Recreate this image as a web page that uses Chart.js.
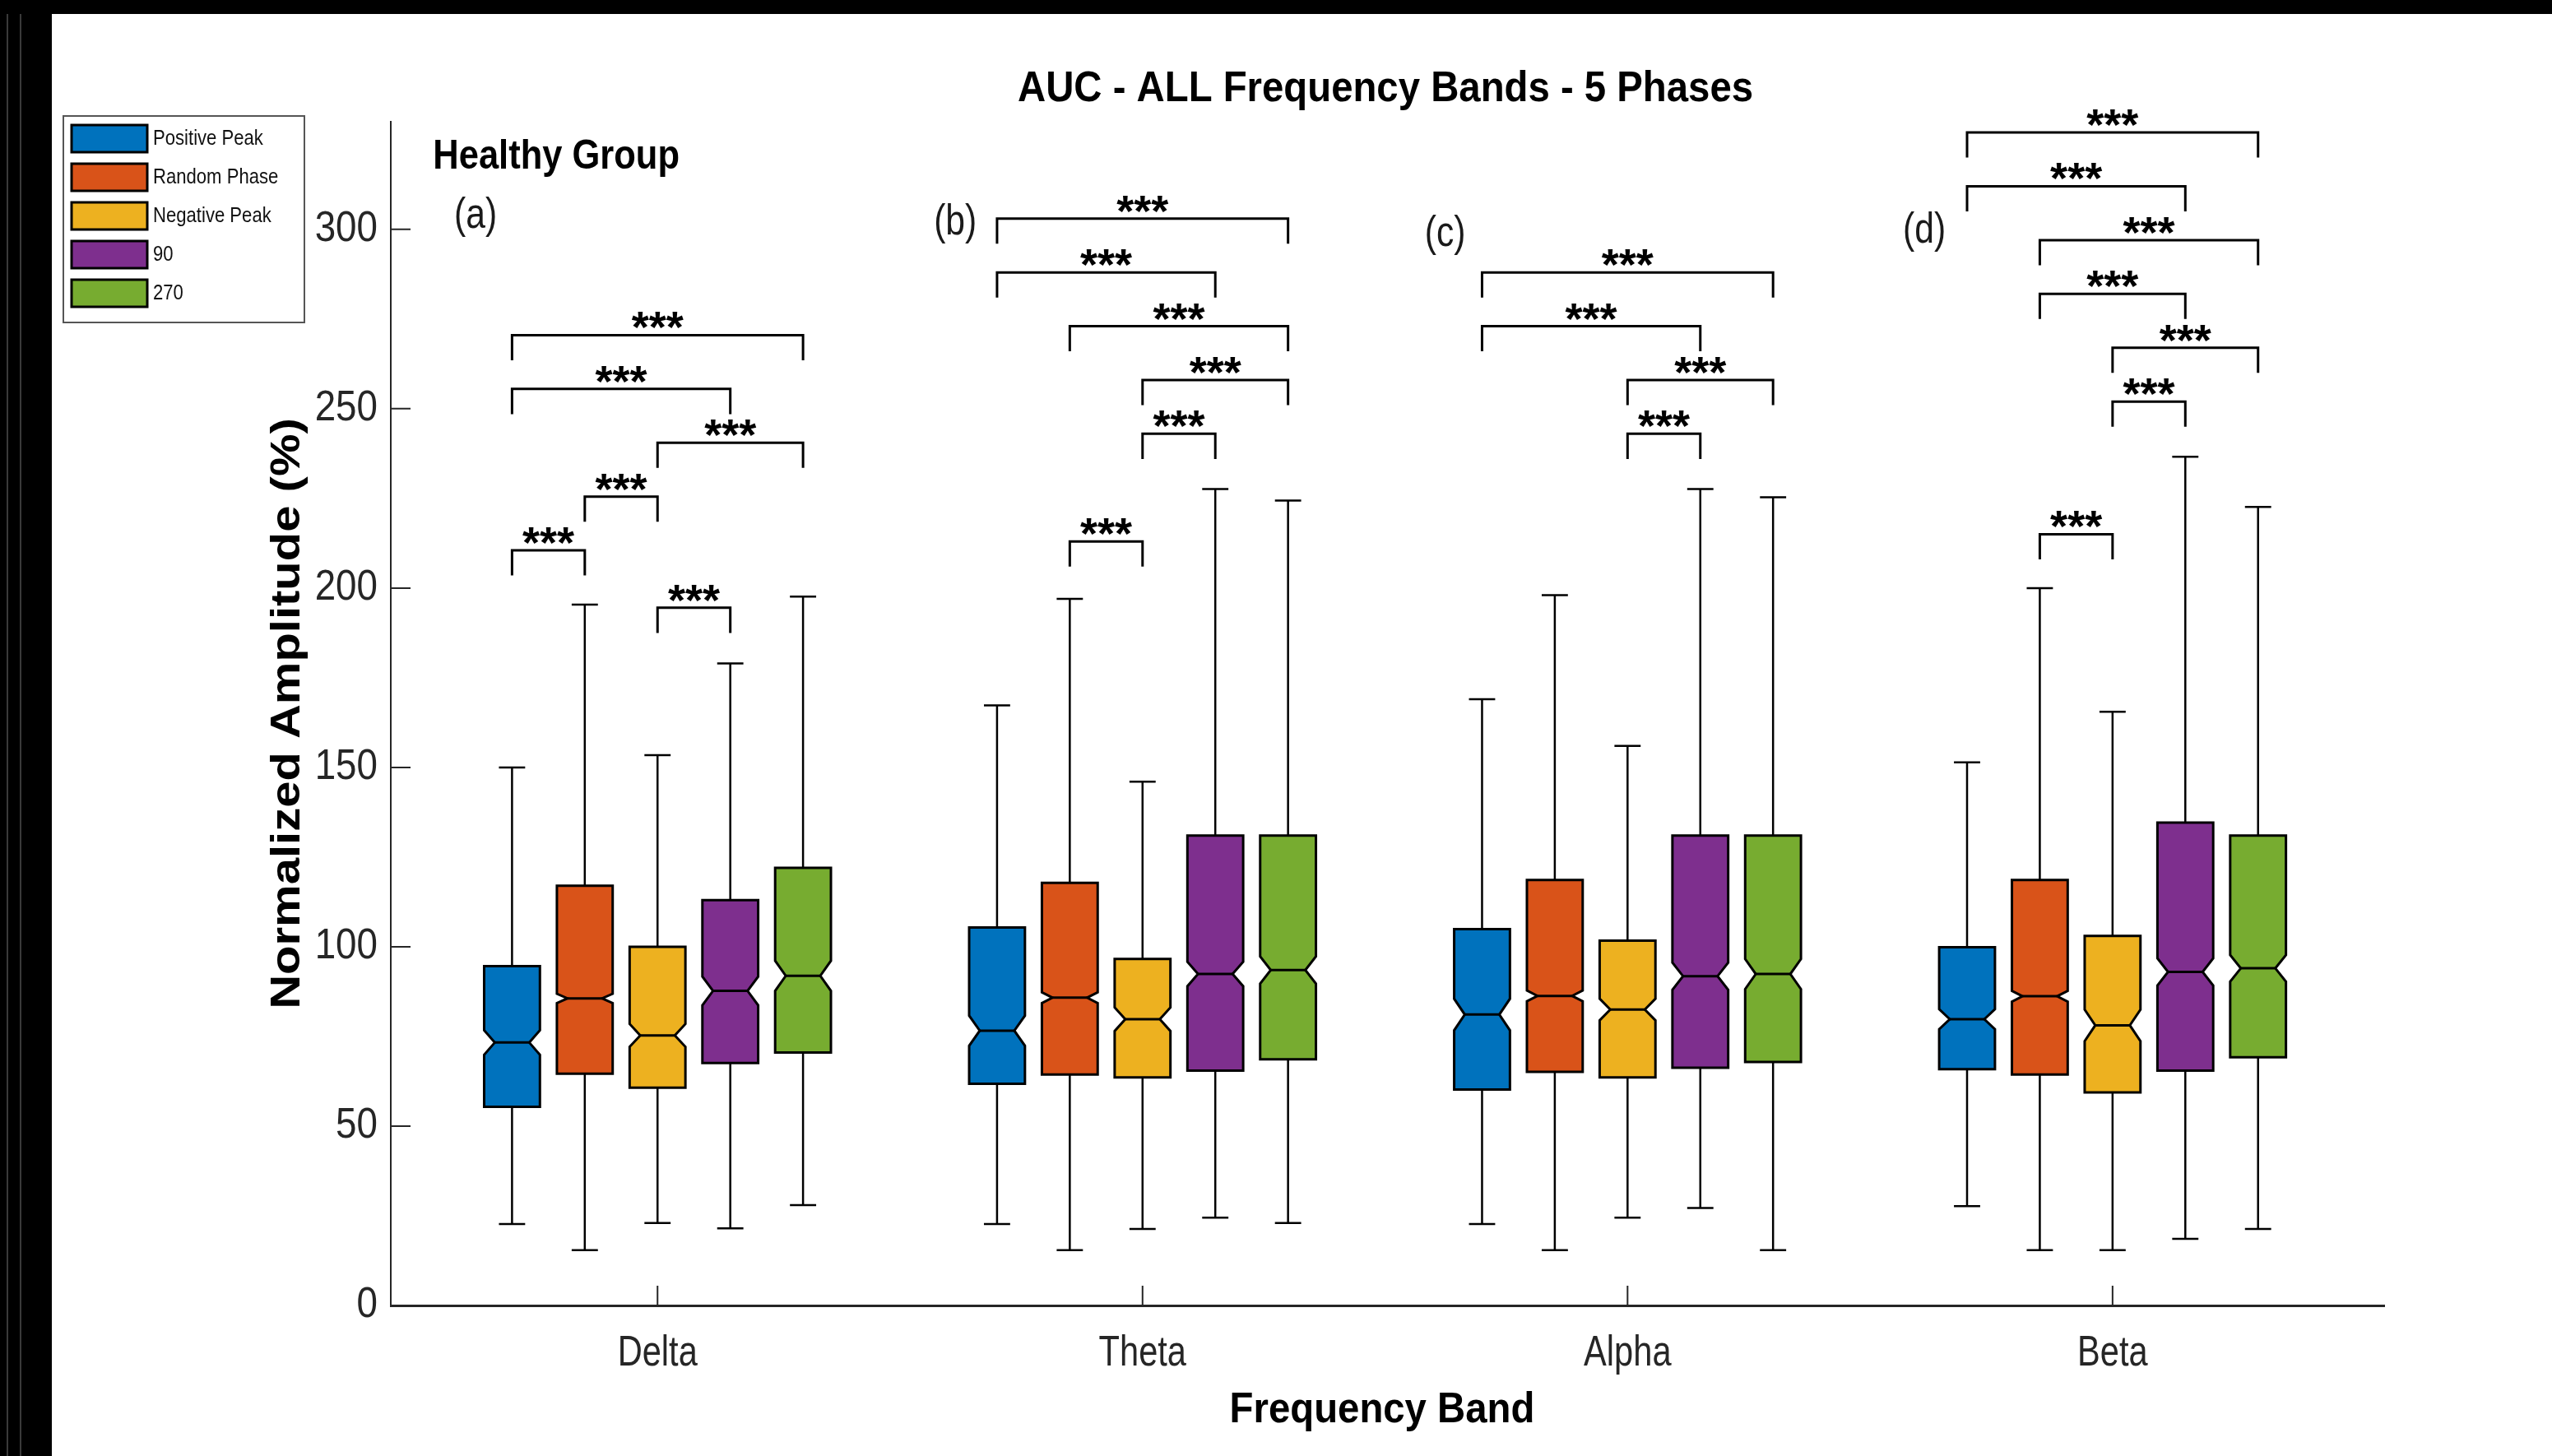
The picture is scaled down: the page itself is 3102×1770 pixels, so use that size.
<!DOCTYPE html>
<html lang="en">
<head>
<meta charset="UTF-8">
<title>AUC - ALL Frequency Bands - 5 Phases</title>
<script src="https://cdn.jsdelivr.net/npm/chart.js"></script>
<style>
  html, body { margin: 0; padding: 0; background: #fff; overflow: hidden; }
  canvas { display: block; }
</style>
</head>
<body>
<canvas id="graficoAUC" width="3102" height="1770"></canvas>
<script>
// bandas no eixo x, uma caixa por fase dentro de cada banda
const bandas = ['Delta', 'Theta', 'Alpha', 'Beta'];
const fases = ['Positive Peak', 'Random Phase', 'Negative Peak', '90', '270'];
const coresFases = ['#0072BD', '#D95319', '#EDB120', '#7E2F8E', '#77AC30'];
const ticksY = [0, 50, 100, 150, 200, 250, 300];

// estatisticas, [fase][banda]
const maximo = [
  [150, 167.3, 169, 151.4],
  [195.4, 197, 198, 200],
  [153.4, 146, 156, 165.5],
  [179, 227.6, 227.6, 236.6],
  [197.6, 224.4, 225.3, 222.6]
];
const q3 = [
  [94.6, 105.4, 104.9, 99.9],
  [117, 117.8, 118.6, 118.6],
  [100, 96.6, 101.7, 103],
  [113, 131, 131, 134.6],
  [122, 131, 131, 131]
];
const mediana = [
  [73.3, 76.6, 81.1, 79.8],
  [85.6, 85.8, 86.3, 86.2],
  [75.3, 79.8, 82.5, 78.1],
  [87.7, 92.4, 91.8, 93],
  [91.9, 93.5, 92.4, 94]
];
const q1 = [
  [55.4, 61.8, 60.2, 65.9],
  [64.6, 64.4, 65.1, 64.4],
  [60.7, 63.6, 63.6, 59.4],
  [67.6, 65.5, 66.3, 65.5],
  [70.5, 68.6, 67.9, 69.2]
];
const minimo = [
  [22.7, 22.7, 22.7, 27.7],
  [15.4, 15.4, 15.4, 15.4],
  [23, 21.3, 24.5, 15.4],
  [21.5, 24.5, 27.2, 18.6],
  [28, 23, 15.4, 21.3]
];
// meia altura do entalhe (intervalo da mediana)
const entalhe = [
  [3.4, 4.2, 4.4, 2.8],
  [1.3, 1.5, 1.5, 1.5],
  [3.2, 3.3, 3.0, 4.4],
  [4.0, 3.4, 3.8, 3.8],
  [4.2, 3.8, 4.2, 3.7]
];

// comparacoes significativas por banda: [fase A, fase B, nivel do colchete]
const comparacoes = [
  [[0, 4, 270.5], [0, 3, 255.5], [2, 4, 240.5], [1, 2, 225.5], [0, 1, 210.5], [2, 3, 194.5]],
  [[0, 4, 303], [0, 3, 288], [1, 4, 273], [2, 4, 258], [2, 3, 243], [1, 2, 213]],
  [[0, 4, 288], [0, 3, 273], [2, 4, 258], [2, 3, 243]],
  [[0, 4, 327], [0, 3, 312], [1, 4, 297], [1, 3, 282], [2, 4, 267], [2, 3, 252], [1, 2, 215]]
];
const rotulosPainel = ['(a)', '(b)', '(c)', '(d)'];

const deslocamento = [-0.3, -0.15, 0, 0.15, 0.3];
const larguraCaixa = 0.115;
const fonte = '"Liberation Sans", Arial, sans-serif';

// texto comprimido na horizontal (a figura original e mais estreita)
function texto(ctx, t, x, y, fator) {
  ctx.save();
  ctx.translate(x, y);
  ctx.scale(fator, 1);
  ctx.fillText(t, 0, 0);
  ctx.restore();
}

const desenho = {
  id: 'desenho',
  beforeDraw(chart) {
    const ctx = chart.ctx;
    ctx.save();
    ctx.fillStyle = '#fff';
    ctx.fillRect(0, 0, chart.width, chart.height);
    // moldura preta da imagem original
    ctx.fillStyle = '#000';
    ctx.fillRect(0, 0, chart.width, 17);
    ctx.fillRect(0, 0, 63, chart.height);
    ctx.fillStyle = '#3a3a3a';
    ctx.fillRect(8, 17, 2, chart.height);
    ctx.fillRect(24, 17, 2, chart.height);
    ctx.restore();
  },
  afterDatasetsDraw(chart) {
    const ctx = chart.ctx;
    const x = chart.scales.x, y = chart.scales.y;
    const meio = (x.getPixelForValue(larguraCaixa) - x.getPixelForValue(0)) / 2;
    const recuo = meio * 0.38;
    const capa = meio * 0.47;

    ctx.save();
    fases.forEach((f, i) => {
      const meta = chart.getDatasetMeta(i);
      bandas.forEach((b, j) => {
        const xc = meta.data[j].x;
        const yMax = y.getPixelForValue(maximo[i][j]);
        const yMin = y.getPixelForValue(minimo[i][j]);
        const yQ3 = y.getPixelForValue(q3[i][j]);
        const yQ1 = y.getPixelForValue(q1[i][j]);
        const yMed = y.getPixelForValue(mediana[i][j]);
        const yNs = y.getPixelForValue(mediana[i][j] + entalhe[i][j]);
        const yNi = y.getPixelForValue(mediana[i][j] - entalhe[i][j]);

        // bigodes
        ctx.strokeStyle = '#000';
        ctx.lineWidth = 2.5;
        ctx.beginPath();
        ctx.moveTo(xc, yQ3); ctx.lineTo(xc, yMax);
        ctx.moveTo(xc - capa, yMax); ctx.lineTo(xc + capa, yMax);
        ctx.moveTo(xc, yQ1); ctx.lineTo(xc, yMin);
        ctx.moveTo(xc - capa, yMin); ctx.lineTo(xc + capa, yMin);
        ctx.stroke();

        // caixa com entalhe
        const xl = xc - meio, xr = xc + meio;
        ctx.beginPath();
        ctx.moveTo(xl, yQ3);
        ctx.lineTo(xr, yQ3);
        ctx.lineTo(xr, yNs);
        ctx.lineTo(xr - recuo, yMed);
        ctx.lineTo(xr, yNi);
        ctx.lineTo(xr, yQ1);
        ctx.lineTo(xl, yQ1);
        ctx.lineTo(xl, yNi);
        ctx.lineTo(xl + recuo, yMed);
        ctx.lineTo(xl, yNs);
        ctx.closePath();
        ctx.fillStyle = coresFases[i];
        ctx.fill();
        ctx.lineWidth = 3;
        ctx.lineJoin = 'miter';
        ctx.stroke();

        ctx.beginPath();
        ctx.moveTo(xl + recuo, yMed);
        ctx.lineTo(xr - recuo, yMed);
        ctx.stroke();
      });
    });

    // colchetes de significancia
    ctx.strokeStyle = '#000';
    ctx.fillStyle = '#000';
    ctx.lineWidth = 3;
    ctx.font = 'bold 54px ' + fonte;
    ctx.textAlign = 'center';
    ctx.textBaseline = 'alphabetic';
    comparacoes.forEach((lista, j) => {
      lista.forEach(([a, b, nivel]) => {
        const xa = x.getPixelForValue(j + 1 + deslocamento[a]);
        const xb = x.getPixelForValue(j + 1 + deslocamento[b]);
        const yl = y.getPixelForValue(nivel);
        const yp = y.getPixelForValue(nivel - 7);
        ctx.beginPath();
        ctx.moveTo(xa, yp);
        ctx.lineTo(xa, yl);
        ctx.lineTo(xb, yl);
        ctx.lineTo(xb, yp);
        ctx.stroke();
        ctx.fillText('***', (xa + xb) / 2, yl + 9);
      });
    });
    ctx.restore();
  },
  afterDraw(chart) {
    const ctx = chart.ctx;
    const x = chart.scales.x, y = chart.scales.y;
    const area = chart.chartArea;
    ctx.save();

    // marcas de escala para dentro, como no MATLAB
    ctx.strokeStyle = '#262626';
    ctx.lineWidth = 2;
    ctx.beginPath();
    ticksY.forEach(v => {
      const py = y.getPixelForValue(v);
      ctx.moveTo(area.left, py); ctx.lineTo(area.left + 24, py);
    });
    bandas.forEach((b, j) => {
      const px = x.getPixelForValue(j + 1);
      ctx.moveTo(px, area.bottom); ctx.lineTo(px, area.bottom - 24);
    });
    ctx.stroke();

    // rotulos das escalas
    ctx.fillStyle = '#262626';
    ctx.font = '52px ' + fonte;
    ctx.textBaseline = 'middle';
    ctx.textAlign = 'right';
    y.ticks.forEach(t => texto(ctx, String(t.value), area.left - 16, y.getPixelForValue(t.value), 0.88));
    ctx.textAlign = 'center';
    x.ticks.forEach(t => texto(ctx, bandas[t.value - 1], x.getPixelForValue(t.value), area.bottom + 59, 0.8));

    // titulos
    ctx.fillStyle = '#000';
    ctx.font = 'bold 52px ' + fonte;
    texto(ctx, 'AUC - ALL Frequency Bands - 5 Phases', 1684, 109, 0.91);
    texto(ctx, 'Frequency Band', 1680, 1715, 0.91);

    ctx.save();
    ctx.translate(350, (area.top + area.bottom) / 2);
    ctx.rotate(-Math.PI / 2);
    ctx.scale(1, 0.85);
    ctx.font = 'bold 58px ' + fonte;
    ctx.fillText('Normalized Amplitude (%)', 0, 0);
    ctx.restore();

    ctx.textAlign = 'left';
    ctx.font = 'bold 50px ' + fonte;
    texto(ctx, 'Healthy Group', x.getPixelForValue(0.537), y.getPixelForValue(320), 0.87);

    ctx.textAlign = 'center';
    ctx.font = '52px ' + fonte;
    ctx.fillStyle = '#1a1a1a';
    const posPainel = [[0.625, 303.6], [1.614, 301.8], [2.624, 298.6], [3.612, 299.5]];
    rotulosPainel.forEach((r, k) => {
      texto(ctx, r, x.getPixelForValue(posPainel[k][0]), y.getPixelForValue(posPainel[k][1]), 0.82);
    });

    // legenda
    ctx.strokeStyle = '#555';
    ctx.lineWidth = 2;
    ctx.strokeRect(77, 141, 293, 251);
    ctx.textAlign = 'left';
    ctx.font = '26px ' + fonte;
    fases.forEach((f, i) => {
      const topo = 152 + i * 47;
      ctx.fillStyle = coresFases[i];
      ctx.fillRect(87, topo, 92, 33);
      ctx.strokeStyle = '#000';
      ctx.lineWidth = 3;
      ctx.strokeRect(87, topo, 92, 33);
      ctx.fillStyle = '#111';
      texto(ctx, f, 186, topo + 17, 0.85);
    });
    ctx.restore();
  }
};

new Chart(document.getElementById('graficoAUC'), {
  type: 'scatter',
  data: {
    datasets: fases.map((f, i) => ({
      label: f,
      data: bandas.map((b, j) => ({ x: j + 1 + deslocamento[i], y: mediana[i][j] })),
      backgroundColor: coresFases[i],
      pointRadius: 0,
      pointHoverRadius: 0
    }))
  },
  options: {
    responsive: false,
    animation: false,
    devicePixelRatio: 1,
    layout: { padding: { left: 0, right: 204, top: 148, bottom: 0 } },
    plugins: {
      legend: { display: false },
      tooltip: { enabled: false },
      title: { display: false }
    },
    scales: {
      x: {
        type: 'linear',
        min: 0.45,
        max: 4.56,
        grid: { display: false },
        border: { display: true, color: '#262626', width: 3 },
        ticks: { display: false },
        afterBuildTicks: s => { s.ticks = bandas.map((b, j) => ({ value: j + 1 })); },
        afterFit: s => { s.height = 183; }
      },
      y: {
        min: 0,
        max: 330,
        grid: { display: false },
        border: { display: true, color: '#262626', width: 2 },
        ticks: { display: false },
        afterBuildTicks: s => { s.ticks = ticksY.map(v => ({ value: v })); },
        afterFit: s => { s.width = 475; }
      }
    }
  },
  plugins: [desenho]
});
</script>
</body>
</html>
